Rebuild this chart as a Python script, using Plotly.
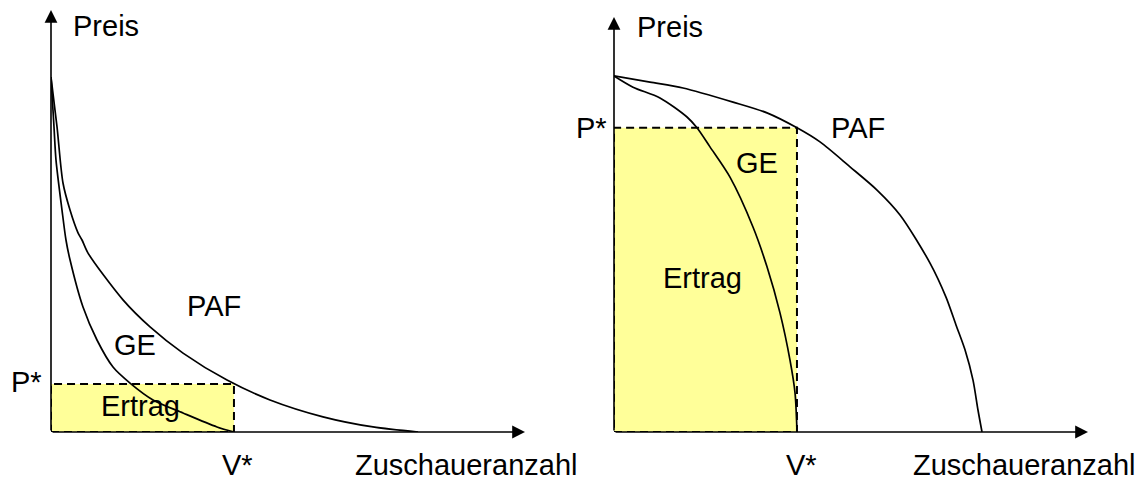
import plotly.graph_objects as go

# ---------------- data (arbitrary units, 0-100 per axis) ----------------
# Left panel (elastic demand)
left_ge_x = [0, 0.63, 1.05, 2.32, 3.16, 4.01, 6.75, 9.70, 13.08, 16.67, 21.52, 27.85, 35.02, 38.61]
left_ge_y = [84.1, 72.3, 64.5, 52.6, 45.5, 40.8, 29.6, 21.8, 15.4, 11.6, 7.6, 4.5, 1.2, 0]
left_paf_x = [0, 1.27, 2.53, 4.01, 5.70, 6.54, 7.81, 15.19, 20.89, 27.85, 37.13, 46.20, 57.38, 67.93, 77.43]
left_paf_y = [84.1, 72.3, 59.0, 52.6, 47.2, 45.5, 42.4, 31.3, 24.9, 18.7, 12.3, 7.6, 3.6, 1.2, 0]
left_p_star = 11.4
left_v_star = 38.6

# Right panel (inelastic demand)
right_paf_x = [0, 7.59, 14.56, 25.11, 32.28, 38.61, 43.46, 49.79, 55.49, 60.34, 66.67, 70.04, 72.15, 74.05, 75.74, 76.79, 77.64]
right_paf_y = [85.8, 84.3, 82.9, 79.5, 76.9, 73.3, 69.9, 63.9, 58.3, 52.3, 40.7, 32.5, 25.8, 19.8, 12.5, 5.3, 0]
right_ge_x = [0, 4.01, 9.70, 15.40, 17.51, 20.25, 24.47, 29.32, 32.28, 35.02, 37.13, 38.19, 38.61]
right_ge_y = [85.8, 83.1, 80.5, 75.9, 73.3, 68.7, 61.4, 49.4, 39.8, 28.7, 17.3, 9.4, 0]
right_p_star = 73.3
right_v_star = 38.6

axis_max = 100
y_label = "Preis"
x_label = "Zuschaueranzahl"

# ---------------- figure ----------------
W, H = 1141, 482
FONT = "Liberation Sans, Arial, sans-serif"
FS = 29
fig = go.Figure()

def add_panel(xa, ya, ge_x, ge_y, paf_x, paf_y, p_star, v_star):
    fig.add_trace(go.Scatter(
        x=[0, v_star, v_star, 0, 0], y=[0, 0, p_star, p_star, 0],
        mode="lines", fill="toself", fillcolor="#FFFF99",
        line=dict(color="black", width=2, dash="8px,5px"),
        xaxis=xa, yaxis=ya, hoverinfo="skip", showlegend=False))
    for xs, ys in ((ge_x, ge_y), (paf_x, paf_y)):
        fig.add_trace(go.Scatter(
            x=xs, y=ys, mode="lines",
            line=dict(color="black", width=1.7, shape="spline", smoothing=0.8),
            xaxis=xa, yaxis=ya, hoverinfo="skip", showlegend=False))

add_panel("x", "y", left_ge_x, left_ge_y, left_paf_x, left_paf_y, left_p_star, left_v_star)
add_panel("x2", "y2", right_ge_x, right_ge_y, right_paf_x, right_paf_y, right_p_star, right_v_star)

annotations = []

def arrow(xr, yr, x, y):
    annotations.append(dict(
        x=x, y=y, ax=0, ay=0, xref=xr, yref=yr, axref=xr, ayref=yr,
        text="", showarrow=True, arrowhead=2, arrowsize=1.6,
        arrowwidth=1.6, arrowcolor="black"))

def label(xr, yr, x, y, text, anchor="center", xshift=0, yanchor="middle"):
    annotations.append(dict(
        x=x, y=y, xref=xr, yref=yr, text=text, showarrow=False,
        xanchor=anchor, yanchor=yanchor, xshift=xshift, borderpad=0,
        font=dict(family=FONT, size=FS, color="black")))

for xr, yr in (("x", "y"), ("x2", "y2")):
    arrow(xr, yr, axis_max, 0)
    arrow(xr, yr, 0, axis_max)

# left panel labels
label("x", "y", 4.43, 96.3, y_label, "left")
label("paper", "paper", 354 / W, 0, x_label, "left", yanchor="bottom")
label("paper", "paper", 237.5 / W, 0, "V*", "center", yanchor="bottom")
label("x", "y", 0, 11.8, "P*", "right", -8)
label("x", "y", 34.4, 29.9, "PAF")
label("x", "y", 17.7, 20.6, "GE")
label("x", "y", 18.8, 6.2, "Ertrag")

# right panel labels
label("x2", "y2", 4.64, 97.7, y_label, "left")
label("paper", "paper", 912 / W, 0, x_label, "left", yanchor="bottom")
label("paper", "paper", 801 / W, 0, "V*", "center", yanchor="bottom")
label("x2", "y2", 0, right_p_star, "P*", "right", -6)
label("x2", "y2", 51.4, 73.3, "PAF")
label("x2", "y2", 30.2, 64.9, "GE")
label("x2", "y2", 18.7, 37.2, "Ertrag")

ax_common = dict(visible=False, showgrid=False, zeroline=False, fixedrange=True)
fig.update_layout(
    width=W, height=H,
    margin=dict(l=0, r=0, t=0, b=0),
    paper_bgcolor="white", plot_bgcolor="white",
    showlegend=False,
    xaxis=dict(domain=[51 / W, 525 / W], range=[0, axis_max], anchor="y", **ax_common),
    yaxis=dict(domain=[1 - 432 / H, 1 - 10 / H], range=[0, axis_max], anchor="x", **ax_common),
    xaxis2=dict(domain=[614 / W, 1088 / W], range=[0, axis_max], anchor="y2", **ax_common),
    yaxis2=dict(domain=[1 - 432 / H, 1 - 17 / H], range=[0, axis_max], anchor="x2", **ax_common),
    annotations=annotations,
)

fig.write_html("out.html", config={"displayModeBar": False},
               post_script="document.body.style.margin='0px';")
